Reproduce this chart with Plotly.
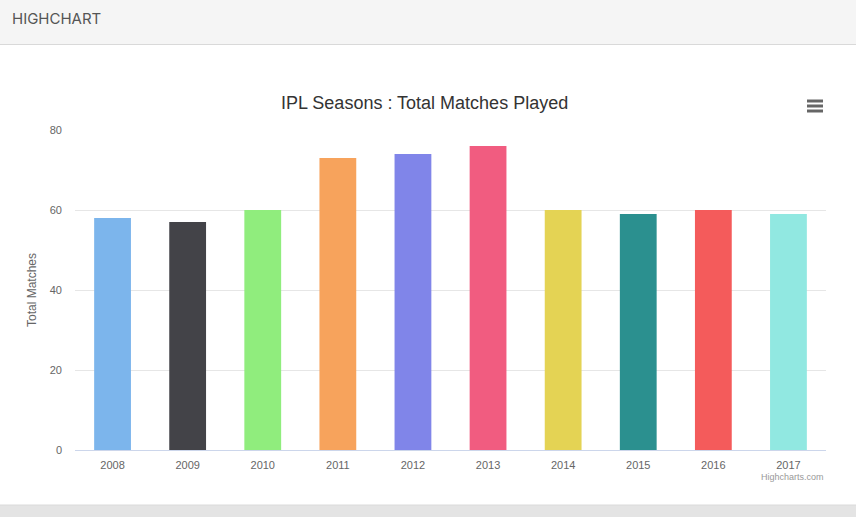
import plotly.graph_objects as go

seasons = ["2008", "2009", "2010", "2011", "2012", "2013", "2014", "2015", "2016", "2017"]
matches = [58, 57, 60, 73, 74, 76, 60, 59, 60, 59]
colors = ["#7cb5ec", "#434348", "#90ed7d", "#f7a35c", "#8085e9",
          "#f15c80", "#e4d354", "#2b908f", "#f45b5b", "#91e8e1"]
y_ticks = [0, 20, 40, 60, 80]

W, H = 856, 517
L, R, T, B = 75, 30, 130, 67
pw, ph = W - L - R, H - T - B

def px(x):
    return (x - L) / pw

def py(y):
    return (H - B - y) / ph

font = "Liberation Sans, Arial, sans-serif"

fig = go.Figure(go.Bar(
    x=seasons, y=matches, marker=dict(color=colors, line=dict(width=0)),
    width=0.49, hoverinfo="x+y",
))

shapes = [
    # header bar
    dict(type="rect", xref="paper", yref="paper", x0=px(0), x1=px(W), y0=py(0), y1=py(44),
         fillcolor="#f5f5f5", line=dict(width=0), layer="below"),
    dict(type="line", xref="paper", yref="paper", x0=px(0), x1=px(W), y0=py(44.5), y1=py(44.5),
         line=dict(color="#d9d9d9", width=1)),
    # bottom strip
    dict(type="rect", xref="paper", yref="paper", x0=px(0), x1=px(W), y0=py(505), y1=py(H),
         fillcolor="#e4e4e4", line=dict(width=0), layer="below"),
    dict(type="line", xref="paper", yref="paper", x0=px(0), x1=px(W), y0=py(505), y1=py(505),
         line=dict(color="#dadada", width=1)),
]
# menu icon
for yy in (101, 106, 111):
    shapes.append(dict(type="line", xref="paper", yref="paper", x0=px(807), x1=px(823),
                       y0=py(yy), y1=py(yy), line=dict(color="#666666", width=3)))

annotations = [
    dict(text="HIGHCHART", xref="paper", yref="paper", x=px(10), y=py(19), xanchor="left",
         yanchor="middle", showarrow=False, font=dict(family="Inter, Open Sans, sans-serif", size=15, color="#555555")),
    dict(text="IPL Seasons : Total Matches Played", xref="paper", yref="paper", x=px(424), y=py(103),
         xanchor="center", yanchor="middle", showarrow=False, font=dict(family=font, size=18, color="#333333")),
    dict(text="Total Matches", xref="paper", yref="paper", x=px(32), y=py(290), textangle=-90,
         xanchor="center", yanchor="middle", showarrow=False, font=dict(family=font, size=12, color="#666666")),
    dict(text="Highcharts.com", xref="paper", yref="paper", x=px(826), y=py(477), xanchor="right",
         yanchor="middle", showarrow=False, font=dict(family=font, size=9, color="#999999")),
]

fig.update_layout(
    width=W, height=H,
    margin=dict(l=L, r=R, t=T, b=B, autoexpand=False),
    paper_bgcolor="white", plot_bgcolor="white",
    showlegend=False,
    shapes=shapes, annotations=annotations,
    font=dict(family=font, size=11, color="#666666"),
    xaxis=dict(showgrid=False, showline=True, linecolor="#ccd6eb", linewidth=1,
               ticks="", tickfont=dict(size=11, color="#666666"), ticklabelstandoff=5,
               fixedrange=True),
    yaxis=dict(range=[0, 80], tickvals=y_ticks, showgrid=True, gridcolor="#e6e6e6", gridwidth=1,
               zeroline=False, showline=False, ticks="", tickfont=dict(size=11, color="#666666"),
               ticklabelstandoff=12, fixedrange=True),
)

fig.write_html("out.html", config={"displayModeBar": False})
